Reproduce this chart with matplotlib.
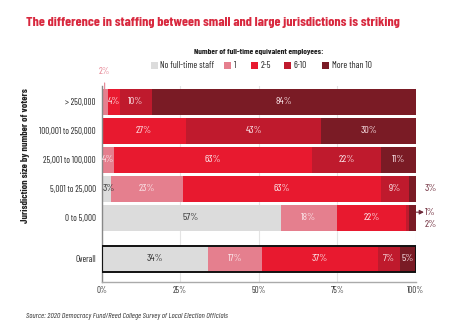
import matplotlib
matplotlib.use("Agg")
import matplotlib.pyplot as plt
from matplotlib.patches import Rectangle
import numpy as np

categories = ["> 250,000", "100,001 to 250,000", "25,001 to 100,000", "5,001 to 25,000", "0 to 5,000", "Overall"]
series = ["No full-time staff", "1", "2-5", "6-10", "More than 10"]
no_staff = [0, 0, 0, 3, 57, 34]
one = [2, 0, 4, 23, 18, 17]
two_five = [4, 27, 63, 63, 22, 37]
six_ten = [10, 43, 22, 9, 1, 7]
more_ten = [84, 30, 11, 3, 2, 5]
x_ticks = [0, 25, 50, 75, 100]
x_tick_labels = ["0%", "25%", "50%", "75%", "100%"]

colors = ["#dcdcdc", "#e57f8e", "#e8192f", "#bf1a2d", "#7a1b25"]
plt.rcParams["font.family"] = ["Barlow Condensed", "DejaVu Sans"]

W, H = 474, 335
fig = plt.figure(figsize=(W / 100, H / 100), dpi=100)
def fx(px): return px / W
def fy(py): return 1 - py / H

ax_l, ax_r = 101.5, 415.7
ax = fig.add_axes([fx(ax_l), fy(282), fx(ax_r) - fx(ax_l), fy(86) - fy(282)])

ypos = [0, 1, 2, 3, 4, 5.41]
bh = 0.88
data = np.array([no_staff, one, two_five, six_ten, more_ten])
left = np.zeros(len(categories))
outside = {(0, 1), (3, 4), (4, 3), (4, 4)}
for s in range(len(series)):
    vals = data[s]
    ax.barh(ypos, vals, left=left, height=bh, color=colors[s], edgecolor="none", zorder=2)
    for i, v in enumerate(vals):
        if v <= 0 or (i, s) in outside:
            continue
        tc = "#333333" if s == 0 else "#fbe6ea"
        xc = left[i] + v / 2
        if v < 4 and s == 0:
            xc = left[i] + 2.2
        ax.text(xc, ypos[i], f"{v}%", ha="center", va="center",
                fontsize=7.5, color=tc, zorder=4)
    left = left + vals

# Outline for Overall bar
ax.barh([ypos[5]], [100], height=bh, color="none", edgecolor="#111111", linewidth=1.4, zorder=3)

# outside labels
ax.annotate("2%", xy=(1, ypos[0] - bh / 2), xytext=(1, -1.05), ha="center", va="center",
            fontsize=7, color="#e57f8e", annotation_clip=False,
            arrowprops=dict(arrowstyle="-", color="#e57f8e", lw=0.8, shrinkA=3, shrinkB=0))
ax.text(102.8, ypos[3], "3%", ha="left", va="center", fontsize=7.5, color="#6e2a3a", clip_on=False)
ax.annotate("", xy=(102.6, 3.8), xytext=(100.2, 3.8), annotation_clip=False,
            arrowprops=dict(arrowstyle="-|>,head_length=0.25,head_width=0.13", color="#6e2a3a",
                            lw=0.8, shrinkA=0, shrinkB=0))
ax.text(102.9, 3.8, "1%", ha="left", va="center", fontsize=7.5, color="#6e2a3a", clip_on=False)
ax.text(102.8, 4.22, "2%", ha="left", va="center", fontsize=7.5, color="#6e2a3a", clip_on=False)

ax.set_xlim(0, 100)
ax.set_ylim(6.207, -0.55)
ax.set_xticks(x_ticks)
ax.set_xticklabels(x_tick_labels, fontsize=6.3, color="#333333")
ax.set_yticks(ypos)
ax.set_yticklabels(categories, fontsize=6.4, color="#222222")
ax.tick_params(axis="y", length=0, pad=4)
ax.tick_params(axis="x", length=0, pad=3)
ax.grid(axis="x", color="#e4e4e4", lw=0.8, zorder=0)
ax.set_axisbelow(True)
for sp in ["top", "right"]:
    ax.spines[sp].set_visible(False)
ax.spines["left"].set_color("#888888")
ax.spines["bottom"].set_color("#aaaaaa")
ax.spines["left"].set_linewidth(1.0)
ax.spines["bottom"].set_linewidth(1.0)

ax.set_ylabel("Jurisdiction size by number of voters", fontsize=7.2, fontweight="bold", color="#222222")
ax.yaxis.set_label_coords((30 - ax_l) / (ax_r - ax_l), 1 - (156 - 86) / 196)

fig.text(fx(26), fy(23), "The difference in staffing between small and large jurisdictions is striking",
         fontsize=10.1, fontweight="bold", color="#d8283e", ha="left", va="center")
fig.text(fx(259), fy(52), "Number of full-time equivalent employees:", fontsize=6.0, fontweight="bold",
         color="#222222", ha="center", va="center")

# legend
leg_x = [151, 224, 251, 284, 322]
for s in range(len(series)):
    fig.patches.append(Rectangle((fx(leg_x[s]), fy(68.5)), fx(7), 7 / H, transform=fig.transFigure,
                                 facecolor=colors[s], edgecolor="none"))
    fig.text(fx(leg_x[s] + 9.5), fy(65), series[s], fontsize=6.7, color="#222222", ha="left", va="center")

fig.text(fx(26), fy(316), "Source: 2020 Democracy Fund/Reed College Survey of Local Election Officials",
         fontsize=5.7, style="italic", color="#333333", ha="left", va="center")

fig.savefig("out.png", dpi=100)
